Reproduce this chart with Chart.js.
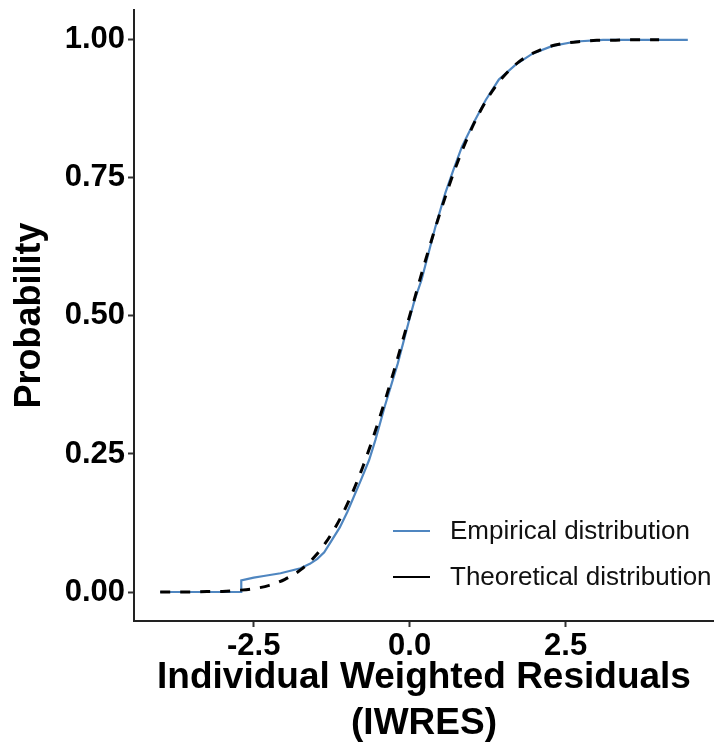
<!DOCTYPE html>
<html>
<head>
<meta charset="utf-8">
<script src="https://cdn.jsdelivr.net/npm/chart.js@4.4.1/dist/chart.umd.min.js"></script>
<style>
  body { margin: 0; background: #fff; }
  canvas { display: block; }
</style>
</head>
<body>
<canvas id="myChart" width="714" height="752"></canvas>
<script>
// tick labels
const xTicks = [-2.5, 0, 2.5];
const yTicks = [0, 0.25, 0.5, 0.75, 1];

// empirical distribution (IWRES ecdf)
const empiricalX = [-4.0, -2.70, -2.70, -2.50, -2.34, -2.07, -1.75, -1.60, -1.48, -1.37, -1.27, -1.12, -1.0, -0.78, -0.65, -0.55, -0.40, -0.19, -0.02, 0.08, 0.19, 0.41, 0.57, 0.70, 0.84, 1.05, 1.22, 1.43, 1.70, 1.97, 2.29, 2.67, 3.1, 4.46];
const empiricalY = [0, 0, 0.021, 0.026, 0.029, 0.034, 0.043, 0.051, 0.060, 0.072, 0.090, 0.117, 0.145, 0.203, 0.239, 0.275, 0.336, 0.414, 0.487, 0.529, 0.565, 0.660, 0.722, 0.764, 0.807, 0.855, 0.891, 0.928, 0.955, 0.975, 0.989, 0.997, 1.0, 1.0];

// theoretical distribution (dashed)
const theoreticalX = [-4, -3.75, -3.5, -3.25, -3, -2.75, -2.5, -2.25, -2, -1.75, -1.5, -1.25, -1, -0.75, -0.5, -0.25, 0, 0.25, 0.5, 0.75, 1, 1.25, 1.5, 1.75, 2, 2.25, 2.5, 2.75, 3, 3.25, 3.5, 3.75, 4];
const theoreticalY = [0, 0, 0, 0.001, 0.001, 0.003, 0.006, 0.012, 0.023, 0.040, 0.067, 0.106, 0.159, 0.227, 0.309, 0.401, 0.5, 0.599, 0.691, 0.773, 0.841, 0.894, 0.933, 0.960, 0.977, 0.988, 0.994, 0.997, 0.999, 0.999, 1.0, 1.0, 1.0];

const FONT = "'Liberation Sans', Arial, sans-serif";

const empirical = empiricalX.map((x, i) => ({ x: x, y: empiricalY[i] }));
const theoretical = theoreticalX.map((x, i) => ({ x: x, y: theoreticalY[i] }));

// legend drawn inside the panel, bottom right
const insideLegend = {
  id: "insideLegend",
  afterDraw(chart) {
    const ctx = chart.ctx;
    const rows = [
      { label: chart.data.datasets[0].label, color: chart.data.datasets[0].borderColor, y: 531 },
      { label: chart.data.datasets[1].label, color: chart.data.datasets[1].borderColor, y: 577 },
    ];
    ctx.save();
    rows.forEach((r) => {
      ctx.strokeStyle = r.color;
      ctx.lineWidth = 2;
      ctx.setLineDash([]);
      ctx.beginPath();
      ctx.moveTo(393, r.y);
      ctx.lineTo(430, r.y);
      ctx.stroke();
      ctx.fillStyle = "#111";
      ctx.font = "26px " + FONT;
      ctx.textBaseline = "middle";
      ctx.textAlign = "left";
      ctx.fillText(r.label, 450, r.y + 1);
    });
    ctx.restore();
  },
};

const ctx = document.getElementById("myChart");
new Chart(ctx, {
  type: "scatter",
  data: {
    datasets: [
      {
        label: "Empirical distribution",
        data: empirical,
        showLine: true,
        borderColor: "#4F86C0",
        borderWidth: 2.2,
        pointRadius: 0,
        tension: 0,
        order: 1,
      },
      {
        label: "Theoretical distribution",
        data: theoretical,
        showLine: true,
        borderColor: "#000000",
        borderWidth: 3,
        borderDash: [10, 10],
        pointRadius: 0,
        cubicInterpolationMode: "monotone",
        order: 0,
      },
    ],
  },
  options: {
    responsive: false,
    animation: false,
    devicePixelRatio: 1,
    layout: { padding: { top: 10, right: 0, left: 0, bottom: 0 } },
    plugins: {
      legend: { display: false },
      tooltip: { enabled: false },
    },
    scales: {
      x: {
        type: "linear",
        min: -4.42,
        max: 4.88,
        afterBuildTicks: (scale) => {
          scale.ticks = xTicks.map((v) => ({ value: v }));
        },
        afterFit: (scale) => {
          scale.height = 131;
          scale.paddingLeft = 0;
          scale.paddingRight = 0;
        },
        grid: {
          drawOnChartArea: false,
          drawTicks: true,
          tickLength: 6,
          tickWidth: 2,
          tickColor: "#333",
        },
        border: { display: true, color: "#222", width: 2 },
        ticks: {
          color: "#000",
          padding: 1,
          maxRotation: 0,
          font: { family: FONT, size: 31, weight: "bold" },
          callback: (v) => Number(v).toFixed(1),
        },
        title: {
          display: true,
          text: ["Individual Weighted Residuals", "(IWRES)"],
          color: "#000",
          font: { family: FONT, size: 37, weight: "bold", lineHeight: 1.22 },
          padding: { top: 0, bottom: 6 },
        },
      },
      y: {
        type: "linear",
        min: -0.0525,
        max: 1.054,
        afterBuildTicks: (scale) => {
          scale.ticks = yTicks.map((v) => ({ value: v }));
        },
        afterFit: (scale) => {
          scale.width = 134;
          scale.paddingTop = 0;
          scale.paddingBottom = 0;
        },
        grid: {
          drawOnChartArea: false,
          drawTicks: true,
          tickLength: 6,
          tickWidth: 2,
          tickColor: "#333",
        },
        border: { display: true, color: "#222", width: 2 },
        ticks: {
          color: "#000",
          padding: 3,
          font: { family: FONT, size: 31, weight: "bold" },
          callback: (v) => Number(v).toFixed(2),
        },
        title: {
          display: true,
          text: "Probability",
          color: "#000",
          font: { family: FONT, size: 36, weight: "bold" },
          padding: { top: 8, bottom: 0 },
        },
      },
    },
  },
  plugins: [insideLegend],
});
</script>
</body>
</html>
